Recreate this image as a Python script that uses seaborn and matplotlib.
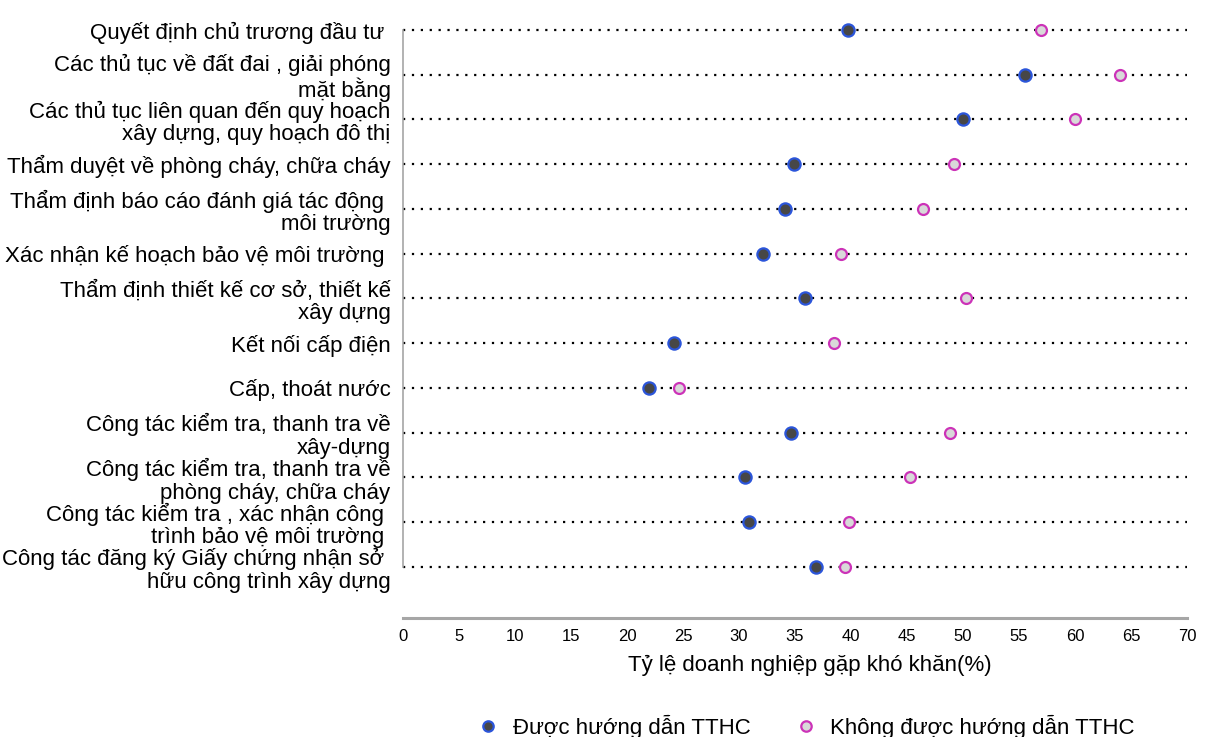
import matplotlib
matplotlib.use("Agg")
import matplotlib.pyplot as plt
import seaborn as sns
import pandas as pd
from matplotlib.lines import Line2D

categories = [
    "Quyết định chủ trương đầu tư ",
    "Các thủ tục về đất đai , giải phóng\nmặt bằng",
    "Các thủ tục liên quan đến quy hoạch\nxây dựng, quy hoạch đô thị",
    "Thẩm duyệt về phòng cháy, chữa cháy",
    "Thẩm định báo cáo đánh giá tác động \nmôi trường",
    "Xác nhận kế hoạch bảo vệ môi trường ",
    "Thẩm định thiết kế cơ sở, thiết kế\nxây dựng",
    "Kết nối cấp điện",
    "Cấp, thoát nước",
    "Công tác kiểm tra, thanh tra về\nxây-dựng",
    "Công tác kiểm tra, thanh tra về\nphòng cháy, chữa cháy",
    "Công tác kiểm tra , xác nhận công \ntrình bảo vệ môi trường ",
    "Công tác đăng ký Giấy chứng nhận sở \nhữu công trình xây dựng",
]
guided = [39.7, 55.5, 50.0, 34.9, 34.1, 32.1, 35.9, 24.2, 22.0, 34.6, 30.5, 30.9, 36.9]
not_guided = [57.0, 64.0, 60.0, 49.2, 46.4, 39.1, 50.3, 38.5, 24.6, 48.8, 45.3, 39.8, 39.5]
series_names = ["Được hướng dẫn TTHC", "Không được hướng dẫn TTHC"]
x_label = "Tỷ lệ doanh nghiệp gặp khó khăn(%)"
x_ticks = list(range(0, 75, 5))

df = pd.DataFrame({"cat": categories, "g": guided, "ng": not_guided})

sns.set_theme(style="white")
plt.rcParams["font.family"] = ["Liberation Sans", "DejaVu Sans"]
plt.rcParams["text.color"] = "black"
plt.rcParams["xtick.color"] = "black"
plt.rcParams["ytick.color"] = "black"
plt.rcParams["axes.labelcolor"] = "black"

fig = plt.figure(figsize=(12.11, 7.37), dpi=100)
ax = fig.add_axes([403 / 1211, 1 - 618 / 737, (1187 - 403) / 1211, (618 - 7.6) / 737])

blue_edge = "#2B55DA"
blue_fill = "#474747"
pink_edge = "#CC33B8"
pink_fill = "#D9D9D9"

sns.scatterplot(data=df, x="g", y="cat", ax=ax, s=78, color=blue_fill,
                edgecolor=blue_edge, linewidth=1.6, zorder=3, legend=False)
sns.scatterplot(data=df, x="ng", y="cat", ax=ax, s=62, color=pink_fill,
                edgecolor=pink_edge, linewidth=1.6, zorder=3, legend=False)

ax.set_xlim(0, 70)
ax.set_ylim(13.14, -0.5)
ax.set_xticks(x_ticks)
ax.set_xticklabels([str(t) for t in x_ticks], fontsize=12)
ax.tick_params(axis="x", length=0, pad=8)
ax.tick_params(axis="y", length=0, pad=9, labelsize=16)
for lab in ax.get_yticklabels():
    lab.set_linespacing(1.1)
ax.set_xlabel(x_label, fontsize=16)
ax.xaxis.set_label_coords((810 - 403) / 784, -0.06)
ax.set_ylabel("")

ax.yaxis.grid(True, linestyle=(0, (1, 3)), color="black", linewidth=1.6, zorder=1)
ax.xaxis.grid(False)
ax.set_axisbelow(True)

for s in ["top", "right"]:
    ax.spines[s].set_visible(False)
ax.spines["left"].set_color("#A6A6A6")
ax.spines["left"].set_linewidth(1.2)
ax.spines["left"].set_bounds(0, len(categories) - 1)
ax.spines["bottom"].set_color("#A6A6A6")
ax.spines["bottom"].set_linewidth(2.2)

handles = [
    Line2D([], [], marker="o", linestyle="", markersize=7.5, markerfacecolor=blue_fill,
           markeredgecolor=blue_edge, markeredgewidth=1.6, label=series_names[0]),
    Line2D([], [], marker="o", linestyle="", markersize=7.5, markerfacecolor=pink_fill,
           markeredgecolor=pink_edge, markeredgewidth=1.6, label=series_names[1]),
]
fig.legend(handles=handles, loc="center", bbox_to_anchor=(806 / 1211, 1 - 727 / 737),
           ncol=2, frameon=False, fontsize=16, handletextpad=0.6, columnspacing=2.0,
           handlelength=1.0)

fig.savefig("out.png", dpi=100)
